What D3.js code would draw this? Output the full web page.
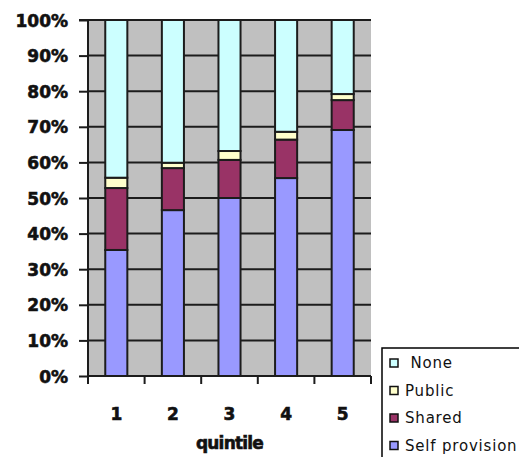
<!DOCTYPE html>
<html>
<head>
<meta charset="utf-8">
<script src="https://cdn.jsdelivr.net/npm/d3@7/dist/d3.min.js"></script>
<style>
  html, body { margin: 0; padding: 0; background: #fff; }
  svg { display: block; }
  .tick-label { font-family: "DejaVu Sans", Verdana, sans-serif; font-weight: bold; font-size: 17px; fill: #111; stroke: #111; stroke-width: 0.6px; }
  .legend-label { font-family: "DejaVu Sans", Verdana, sans-serif; font-size: 15px; fill: #111; letter-spacing: 0.8px; white-space: pre; }
</style>
</head>
<body>
<svg id="chart" width="519" height="457"></svg>
<script>
// Share of households by provision type, per income quintile (percent)
const quintiles = ["1", "2", "3", "4", "5"];
const seriesNames = ["Self provision", "Shared", "Public", "None"];
const selfProvision = [35.4, 46.6, 50.0, 55.6, 69.1];
const shared        = [17.4, 11.8, 10.7, 10.8, 8.4];
const publicProv    = [2.9, 1.5, 2.5, 2.2, 1.7];
const none          = [44.3, 40.1, 36.8, 31.4, 20.8];
const yTicks = [0, 10, 20, 30, 40, 50, 60, 70, 80, 90, 100];
const xTitle = "quintile";
const colors = ["#9999ff", "#993366", "#ffffcc", "#ccffff"];

const rows = quintiles.map((q, i) => ({
  quintile: q,
  "Self provision": selfProvision[i],
  "Shared": shared[i],
  "Public": publicProv[i],
  "None": none[i]
}));

const svg = d3.select("#chart");
const plot = { left: 88, right: 371, top: 20, bottom: 376 };

const x = d3.scaleBand()
  .domain(quintiles)
  .range([plot.left, plot.right])
  .paddingInner(0.61)
  .paddingOuter(0.305);

const y = d3.scaleLinear()
  .domain([0, 100])
  .range([plot.bottom, plot.top]);

const color = d3.scaleOrdinal().domain(seriesNames).range(colors);
const ink = "#1c1c1c";

// grey plot area
svg.append("rect")
  .attr("x", plot.left).attr("y", plot.top)
  .attr("width", plot.right - plot.left)
  .attr("height", plot.bottom - plot.top)
  .attr("fill", "#c0c0c0");

// horizontal gridlines
svg.append("g")
  .selectAll("line")
  .data(yTicks.filter(t => t > 0))
  .join("line")
  .attr("x1", plot.left).attr("x2", plot.right)
  .attr("y1", d => y(d)).attr("y2", d => y(d))
  .attr("stroke", ink).attr("stroke-width", 2);

// stacked bars
const stack = d3.stack().keys(seriesNames)(rows);
svg.append("g")
  .selectAll("g")
  .data(stack)
  .join("g")
  .attr("fill", d => color(d.key))
  .selectAll("rect")
  .data(d => d)
  .join("rect")
  .attr("x", d => x(d.data.quintile))
  .attr("width", x.bandwidth())
  .attr("y", d => y(d[1]))
  .attr("height", d => y(d[0]) - y(d[1]))
  .attr("stroke", ink)
  .attr("stroke-width", 2);

// y axis with ticks on the outside
const yAxis = d3.axisLeft(y)
  .tickValues(yTicks)
  .tickSize(9)
  .tickFormat(d => d + "%");
const gy = svg.append("g")
  .attr("transform", `translate(${plot.left},0)`)
  .call(yAxis);
gy.select(".domain").attr("stroke", ink).attr("stroke-width", 2)
  .attr("d", `M-9,${plot.top}H0V${plot.bottom + 8}`);
gy.selectAll(".tick line").attr("stroke", ink).attr("stroke-width", 2);
gy.selectAll(".tick text")
  .attr("class", "tick-label")
  .attr("x", -20)
  .attr("dy", "0.36em")
  .attr("text-anchor", "end");

// x axis: ticks at the category boundaries, labels at bar centres
const step = x.step();
const boundaries = d3.range(quintiles.length + 1).map(i => plot.left + i * step);
svg.append("line")
  .attr("x1", plot.left).attr("x2", plot.right)
  .attr("y1", plot.bottom).attr("y2", plot.bottom)
  .attr("stroke", ink).attr("stroke-width", 2);
svg.append("g")
  .selectAll("line")
  .data(boundaries)
  .join("line")
  .attr("x1", d => d).attr("x2", d => d)
  .attr("y1", plot.bottom).attr("y2", plot.bottom + 8)
  .attr("stroke", ink).attr("stroke-width", 2);
svg.append("g")
  .selectAll("text")
  .data(quintiles)
  .join("text")
  .attr("class", "tick-label")
  .attr("x", d => x(d) + x.bandwidth() / 2)
  .attr("y", 420)
  .attr("text-anchor", "middle")
  .text(d => d);

svg.append("text")
  .attr("class", "tick-label")
  .attr("x", (plot.left + plot.right) / 2)
  .attr("y", 449)
  .attr("text-anchor", "middle")
  .attr("letter-spacing", "-0.8px")
  .text(xTitle);

// legend, listed top to bottom in reverse stacking order
const legend = svg.append("g").attr("transform", "translate(382,348)");
legend.append("rect")
  .attr("x", 0).attr("y", 0)
  .attr("width", 200).attr("height", 200)
  .attr("fill", "#fff")
  .attr("stroke", "#000")
  .attr("stroke-width", 1.5);
const items = legend.selectAll("g.item")
  .data(seriesNames.slice().reverse())
  .join("g")
  .attr("class", "item")
  .attr("transform", (d, i) => `translate(0,${15 + i * 27.5})`);
items.append("rect")
  .attr("x", 8).attr("y", -4)
  .attr("width", 8).attr("height", 8)
  .attr("fill", d => color(d))
  .attr("stroke", "#111")
  .attr("stroke-width", 1.5);
items.append("text")
  .attr("class", "legend-label")
  .attr("x", 23)
  .attr("dy", "0.36em")
  .text(d => d === "None" ? "\u00A0" + d : d);
</script>
</body>
</html>
